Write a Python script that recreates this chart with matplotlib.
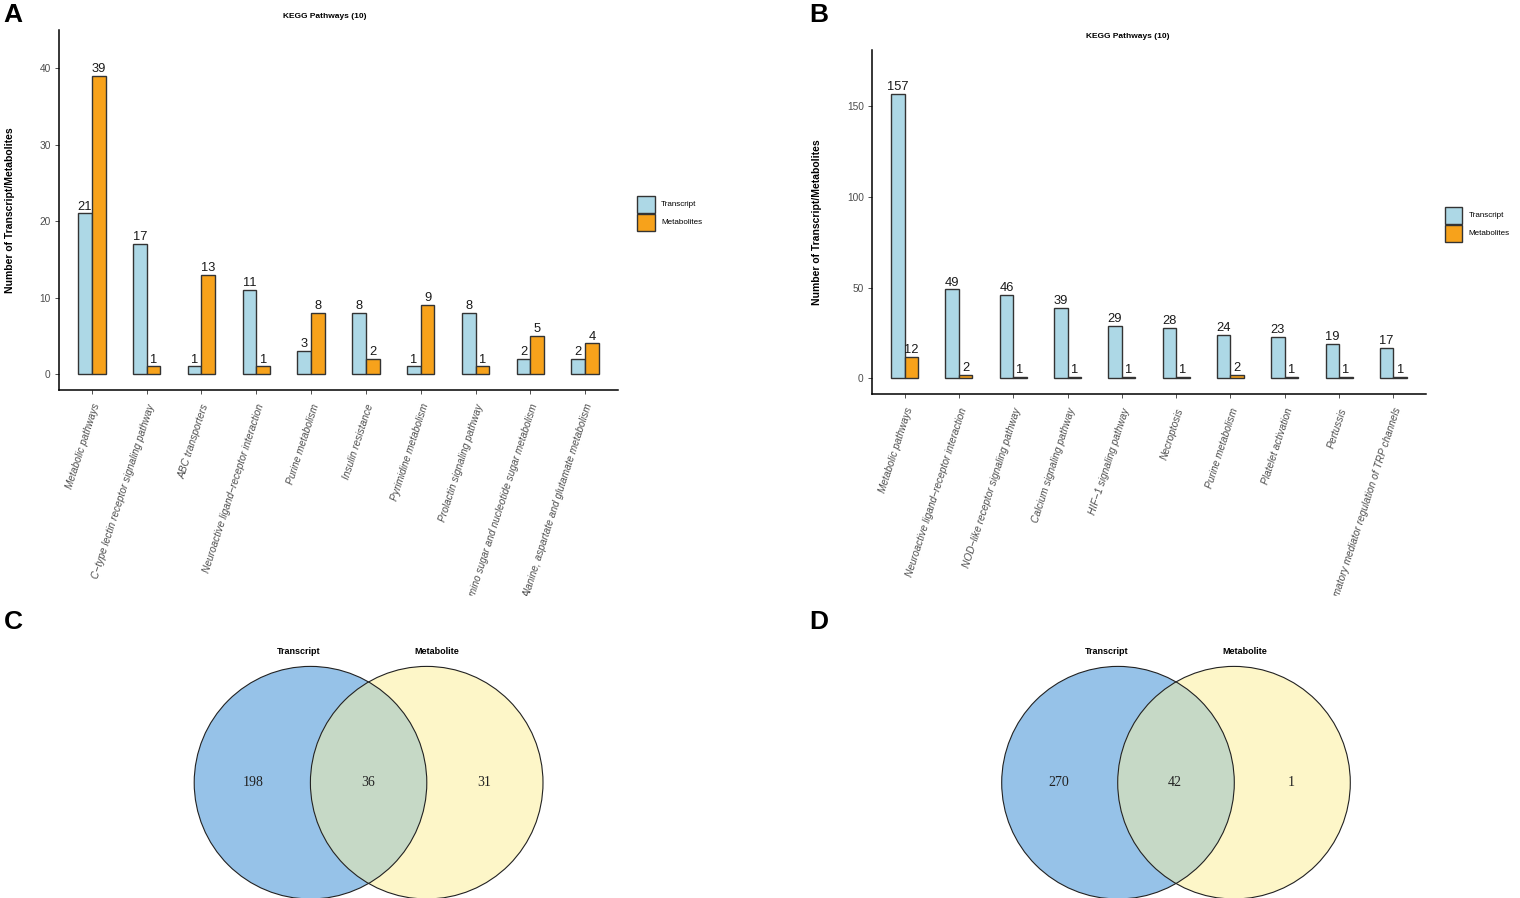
import matplotlib
matplotlib.use("Agg")
import matplotlib.pyplot as plt
import numpy as np
from matplotlib.patches import Circle, Rectangle
from matplotlib.transforms import Bbox, TransformedBbox

plt.rcParams['font.family'] = ['Liberation Sans', 'DejaVu Sans']

# panel A data
pathways_a = ["Metabolic pathways", "C\u2212type lectin receptor signaling pathway", "ABC transporters",
              "Neuroactive ligand\u2212receptor interaction", "Purine metabolism", "Insulin resistance",
              "Pyrimidine metabolism", "Prolactin signaling pathway",
              "Amino sugar and nucleotide sugar metabolism", "Alanine, aspartate and glutamate metabolism"]
transcript_a = [21, 17, 1, 11, 3, 8, 1, 8, 2, 2]
metabolites_a = [39, 1, 13, 1, 8, 2, 9, 1, 5, 4]

# panel B data
pathways_b = ["Metabolic pathways", "Neuroactive ligand\u2212receptor interaction",
              "NOD\u2212like receptor signaling pathway", "Calcium signaling pathway",
              "HIF\u22121 signaling pathway", "Necroptosis", "Purine metabolism", "Platelet activation",
              "Pertussis", "Inflammatory mediator regulation of TRP channels"]
transcript_b = [157, 49, 46, 39, 29, 28, 24, 23, 19, 17]
metabolites_b = [12, 2, 1, 1, 1, 1, 2, 1, 1, 1]

# venn data: only transcript, shared, only metabolite
venn_c = [198, 36, 31]
venn_d = [270, 42, 1]
venn_sets = ["Transcript", "Metabolite"]

W, H = 1520, 898
fig = plt.figure(figsize=(W / 100, H / 100), dpi=100)

C_TR = '#ADD8E6'
C_ME = '#F7A21B'
EDGE = '#333333'


def px_axes(left, top, right, bottom):
    return fig.add_axes([left / W, 1 - bottom / H, (right - left) / W, (bottom - top) / H])


def bar_panel(box, names, trans, metab, ylim, yticks, title_xy, ylab_x, legend_xy, clip_y):
    ax = px_axes(*box)
    x = np.arange(1, len(names) + 1)
    w = 0.25
    ax.bar(x - w / 2, trans, w, color=C_TR, edgecolor=EDGE, linewidth=1.0)
    ax.bar(x + w / 2, metab, w, color=C_ME, edgecolor=EDGE, linewidth=1.0)
    for xi, t, m in zip(x, trans, metab):
        ax.annotate(str(t), (xi - w / 2, t), xytext=(0, 0.5), textcoords='offset points',
                    ha='center', va='bottom', fontsize=9.3, color='#1a1a1a')
        ax.annotate(str(m), (xi + w / 2, m), xytext=(0, 0.5), textcoords='offset points',
                    ha='center', va='bottom', fontsize=9.3, color='#1a1a1a')
    ax.set_xlim(0.4, len(names) + 0.6)
    ax.set_ylim(*ylim)
    ax.set_yticks(yticks)
    ax.set_xticks(x)
    ax.set_xticklabels(names, rotation=72, ha='right', va='top', rotation_mode='anchor',
                       fontsize=7.3, style='italic', color='#4d4d4d')
    ax.tick_params(axis='both', length=3, width=0.6, color='#333333', labelsize=7.3,
                   labelcolor='#4d4d4d', pad=3)
    ax.tick_params(axis='x', pad=6)
    for s in ['top', 'right']:
        ax.spines[s].set_visible(False)
    for s in ['left', 'bottom']:
        ax.spines[s].set_linewidth(1.1)
    # labels are cut off at the bottom of the panel, as in the source figure
    clip = TransformedBbox(Bbox.from_extents(0, 1 - clip_y / H, 1, 1), fig.transFigure)
    for lab in ax.get_xticklabels():
        lab.set_clip_box(clip)
        lab.set_clip_on(True)
    fig.text(title_xy[0] / W, 1 - title_xy[1] / H, "KEGG Pathways (10)", ha='center', va='center',
             fontsize=6, fontweight='bold')
    fig.text(ylab_x / W, 1 - (box[1] + box[3]) / 2 / H, "Number of Transcript/Metabolites",
             rotation=90, ha='center', va='center', fontsize=7.5, fontweight='bold')
    # legend keys
    lx, ly = legend_xy
    for i, (lab, col) in enumerate([("Transcript", C_TR), ("Metabolites", C_ME)]):
        y0 = ly + i * 18
        fig.patches.append(Rectangle((lx / W, 1 - (y0 + 17.5) / H), 17.5 / W, 17.5 / H,
                                     transform=fig.transFigure, facecolor=col,
                                     edgecolor=EDGE, linewidth=1.0))
        fig.text((lx + 24) / W, 1 - (y0 + 9) / H, lab, ha='left', va='center', fontsize=5.8)
    return ax


bar_panel((59, 30, 618, 390), pathways_a, transcript_a, metabolites_a, (-2.1, 45),
          [0, 10, 20, 30, 40], (325, 17), 10, (637, 195.5), 596)
bar_panel((872, 50, 1426, 394), pathways_b, transcript_b, metabolites_b, (-8.6, 181),
          [0, 50, 100, 150], (1128, 37), 817, (1444.5, 206.5), 596)


def venn(cx_left, cx_right, cy, r, counts, label_x, num_x):
    ax = fig.add_axes([0, 0, 1, 1])
    ax.set_xlim(0, W)
    ax.set_ylim(H, 0)
    ax.axis('off')
    ax.patch.set_alpha(0)
    left = Circle((cx_left, cy), r, facecolor='#96C2E8', edgecolor='none')
    right = Circle((cx_right, cy), r, facecolor='#FDF6C8', edgecolor='none')
    ax.add_patch(left)
    ax.add_patch(right)
    inter = Circle((cx_right, cy), r, facecolor='#C6D9C6', edgecolor='none')
    ax.add_patch(inter)
    inter.set_clip_path(left)
    for cx in (cx_left, cx_right):
        ax.add_patch(Circle((cx, cy), r, facecolor='none', edgecolor='#222222', linewidth=0.8))
    for lx, name in zip(label_x, venn_sets):
        ax.text(lx, 652, name, ha='center', va='center', fontsize=6.5, fontweight='bold')
    for nx, n in zip(num_x, counts):
        ax.text(nx, cy, str(n), ha='center', va='center', fontsize=10,
                family=['Liberation Serif', 'DejaVu Serif'], color='#222222')


venn(310.5, 426.7, 782.7, 116.3, venn_c, (299, 437), (252.7, 368, 484))
venn(1118, 1234, 782.7, 116.3, venn_d, (1106.7, 1245), (1059, 1175, 1291.7))

for lab, x, y in [("A", 13, 15), ("B", 819, 15), ("C", 13, 622), ("D", 819, 622)]:
    fig.text(x / W, 1 - y / H, lab, ha='center', va='center', fontsize=19, fontweight='bold')

fig.savefig("out.png", dpi=100)
